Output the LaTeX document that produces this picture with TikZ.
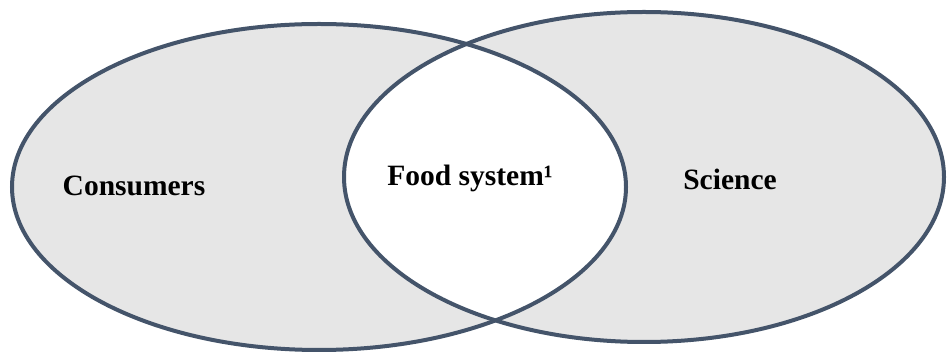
\documentclass[tikz,border=0pt]{standalone}
\usepackage{fontspec}
\setmainfont{Liberation Serif}
\usetikzlibrary{positioning}
\definecolor{rim}{RGB}{68,84,106}
\definecolor{shade}{RGB}{230,230,230}
\tikzset{
	ring/.style={draw=rim, line width=4pt},
	patch/.style={fill=shade}
}

\begin{document}
\begin{tikzpicture}[x=1pt, y=1pt]
		\useasboundingbox (0,0) rectangle (947,353);
		\fill[patch] (319,166) ellipse [x radius=307, y radius=163];
		\fill[patch] (644,176) ellipse [x radius=300, y radius=165];
		\begin{scope}
			\clip (319,166) ellipse [x radius=307, y radius=163];
			\fill[white] (644,176) ellipse [x radius=300, y radius=165];
		\end{scope}
		\draw[ring] (319,166) ellipse [x radius=307, y radius=163];
		\draw[ring] (644,176) ellipse [x radius=300, y radius=165];
		\begin{scope}[every node/.style={font=\bfseries\fontsize{29.5}{33}\selectfont, inner sep=0pt}]
			\node (consumers) at (134,167) {Consumers};
			\node (food) at (470,175) {Food system¹};
			\node (science) at (730,174) {Science};
		\end{scope}
	\end{tikzpicture}
\end{document}
